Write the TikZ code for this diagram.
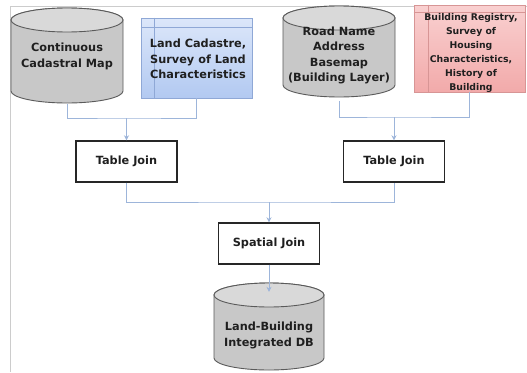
\documentclass[tikz,border=0pt]{standalone}
\usepackage{fontspec}
\setmainfont{DejaVu Sans}
\usetikzlibrary{arrows.meta}

% half height of the drum ends
\def\drumry{12}

% drum (database) symbol: name, centre x, top y, bottom y, half width, label, label style
\newcommand\drum[7]{%
  \path[drumbody] ({#2-#5},{#3+\drumry}) -- ({#2-#5},{#4-\drumry})
    arc[start angle=180,end angle=360,x radius=#5pt,y radius=\drumry pt]
    -- ({#2+#5},{#3+\drumry})
    arc[start angle=0,end angle=180,x radius=#5pt,y radius=\drumry pt] -- cycle;
  \path[drumtop] (#2,{#3+\drumry}) ellipse[x radius=#5pt,y radius=\drumry pt];
  \node[drumlabel,#7,minimum width={2*#5 pt},minimum height={(#4-#3)*1pt}]
    (#1) at (#2,{(#3+#4)/2}) {#6};
}

\definecolor{drumfill}{HTML}{C8C8C8}
\definecolor{drumend}{HTML}{D9D9D9}
\definecolor{drumline}{HTML}{5A5A5A}
\definecolor{linkblue}{HTML}{9DB5DA}
\definecolor{framegray}{HTML}{CCCCCC}
\definecolor{bluetop}{HTML}{DCE7FA}
\definecolor{bluebot}{HTML}{B2C9F1}
\definecolor{blueline}{HTML}{8FA8D6}
\definecolor{redtop}{HTML}{F9D0D0}
\definecolor{redbot}{HTML}{F2AAAA}
\definecolor{redline}{HTML}{D79595}

\tikzset{
  txt/.style={font=\bfseries\fontsize{11.3}{15.5}\selectfont, align=center, text=black!88},
  smalltxt/.style={font=\bfseries\fontsize{9.3}{13.9}\selectfont, align=center, text=black!88},
  drumbody/.style={fill=drumfill, draw=drumline, line width=0.9pt},
  drumtop/.style={fill=drumend, draw=drumline, line width=0.9pt},
  drumlabel/.style={txt, inner sep=0pt},
  store/.style={rectangle, inner sep=0pt, line width=0.8pt},
  bluestore/.style={store, draw=blueline, top color=bluetop, bottom color=bluebot},
  redstore/.style={store, draw=redline, top color=redtop, bottom color=redbot},
  joinbox/.style={rectangle, draw=black!85, line width=1.4pt, fill=white,
    minimum width=101pt, minimum height=41pt, txt},
  link/.style={draw=linkblue, line width=0.9pt},
  linkarrow/.style={link, -{Stealth[length=5pt,width=5pt]}},
}

\begin{document}
\begin{tikzpicture}[x=1pt,y=-1pt]
  \useasboundingbox (0,0) rectangle (527,372);
  \fill[white] (0,0) rectangle (527,372);

  % outer frame
  \draw[framegray, line width=0.9pt] (10,372) -- (10,6) -- (527,6);

  % source data
  \drum{cadmap}{67}{8}{103}{56}{Continuous\\Cadastral Map}{yshift=-1pt}
  \drum{roadmap}{339}{6}{97}{56}{Road Name\\Address\\Basemap\\(Building Layer)}{yshift=-4pt}

  \node[bluestore, minimum width=111pt, minimum height=80pt] (landreg) at (196.5,58) {};
  \draw[draw=blueline, line width=0.6pt]
    ([xshift=14pt]landreg.north west) -- ([xshift=14pt]landreg.south west)
    ([yshift=-10pt]landreg.north west) -- ([yshift=-10pt]landreg.north east);
  \node[txt] at (198,59) {Land Cadastre,\\Survey of Land\\Characteristics};

  \node[redstore, minimum width=111pt, minimum height=87pt] (bldreg) at (469.5,48.5) {};
  \draw[draw=redline, line width=0.6pt]
    ([xshift=15pt]bldreg.north west) -- ([xshift=15pt]bldreg.south west)
    ([yshift=-8pt]bldreg.north west) -- ([yshift=-8pt]bldreg.north east);
  \node[smalltxt] at (471,53) {Building Registry,\\Survey of\\Housing\\Characteristics,\\History of\\Building};

  % processing steps
  \node[joinbox] (tjleft) at (126.5,161.5) {Table Join};
  \node[joinbox] (tjright) at (394,161.5) {Table Join};
  \node[joinbox] (sjoin) at (269,243.5) {Spatial Join};

  % result
  \drum{landdb}{269}{283}{370}{55}{Land-Building\\Integrated DB}{yshift=-9pt}

  % junction points of the connectors
  \coordinate (jl) at (126.5,118);
  \coordinate (jr) at (394,117);
  \coordinate (jm) at (269,202);

  % connectors
  \draw[link] (cadmap.south) |- (jl) -| (landreg.south);
  \draw[linkarrow] (jl) -- (tjleft.north);
  \draw[link] (roadmap.south) |- (jr) -| (bldreg.south);
  \draw[linkarrow] (jr) -- (tjright.north);
  \draw[link] (tjleft.south) |- (jm) -| (tjright.south);
  \draw[linkarrow] (jm) -- (sjoin.north);
  \draw[linkarrow] (sjoin.south) -- (landdb.north);
\end{tikzpicture}
\end{document}
